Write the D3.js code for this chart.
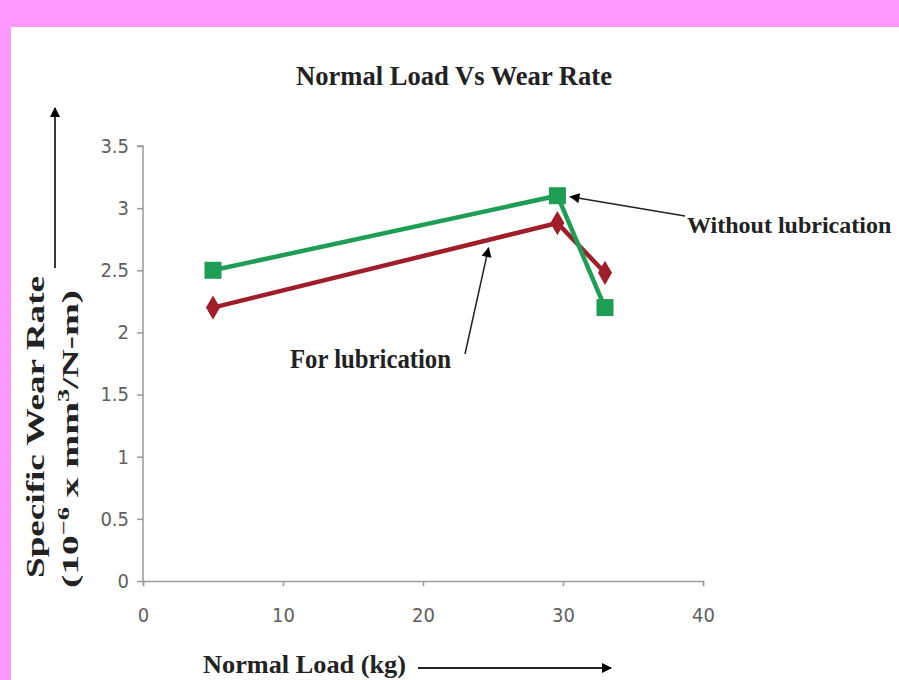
<!DOCTYPE html>
<html>
<head>
<meta charset="utf-8">
<script src="https://cdn.jsdelivr.net/npm/d3@7/dist/d3.min.js"></script>
<style>
  html, body { margin: 0; padding: 0; background: #ff99ff; overflow: hidden; }
  svg { display: block; }
</style>
</head>
<body>
<script>
// ---- data ----
const loads = [5, 29.6, 33];
const withoutLubrication = [2.5, 3.1, 2.2];
const forLubrication = [2.2, 2.88, 2.48];
const xTicks = [0, 10, 20, 30, 40];
const yTicks = [0, 0.5, 1, 1.5, 2, 2.5, 3, 3.5];
const chartTitle = "Normal Load Vs Wear Rate";
const xTitle = "Normal Load (kg)";
const yTitle1 = "Specific Wear Rate";
const labelWithout = "Without lubrication";
const labelFor = "For lubrication";

const W = 899, H = 680;
const svg = d3.select("body").append("svg").attr("width", W).attr("height", H);

// backgrounds
svg.append("rect").attr("x", 0).attr("y", 0).attr("width", W).attr("height", H).attr("fill", "#ff99ff");
svg.append("rect").attr("x", 11).attr("y", 27).attr("width", W - 11).attr("height", H - 27).attr("fill", "#ffffff");

const defs = svg.append("defs");
defs.append("marker").attr("id", "ah").attr("viewBox", "0 0 10 10")
  .attr("refX", 9).attr("refY", 5).attr("markerWidth", 14).attr("markerHeight", 10)
  .attr("markerUnits", "userSpaceOnUse").attr("orient", "auto")
  .append("path").attr("d", "M0,0 L10,5 L0,10 Z").attr("fill", "#000");

const x = d3.scaleLinear().domain([0, 40]).range([143, 703]);
const y = d3.scaleLinear().domain([0, 3.5]).range([581, 146]);

const tickFont = "'Liberation Sans Narrow','DejaVu Sans Condensed',sans-serif";
const serif = "'Liberation Serif','Times New Roman',serif";

// axes
const xAxis = d3.axisBottom(x).tickValues(xTicks).tickSize(5).tickPadding(22).tickFormat(d3.format("d"));
const gx = svg.append("g").attr("transform", `translate(0,${y(0)})`).call(xAxis);
const yAxis = d3.axisLeft(y).tickValues(yTicks).tickSize(6).tickPadding(8).tickFormat(d => d);
const gy = svg.append("g").attr("transform", `translate(${x(0)},0)`).call(yAxis);
[gx, gy].forEach(g => {
  g.select(".domain").attr("stroke", "#9a9a9a").attr("stroke-width", 1.5);
  g.selectAll(".tick line").attr("stroke", "#9a9a9a").attr("stroke-width", 1.5);
  g.selectAll(".tick text").attr("fill", "#606060").attr("font-family", tickFont).attr("font-size", 20);
});
gy.select(".domain").attr("d", `M-6,${y(3.5)}H0V${y(0)}`);

// series
const line = d3.line().x(d => x(d[0])).y(d => y(d[1]));
const greenData = loads.map((l, i) => [l, withoutLubrication[i]]);
const redData = loads.map((l, i) => [l, forLubrication[i]]);
const green = "#1e9e55", red = "#a01e2a";

svg.append("path").datum(redData).attr("d", line).attr("fill", "none").attr("stroke", red).attr("stroke-width", 4.5);
svg.append("path").datum(greenData).attr("d", line).attr("fill", "none").attr("stroke", green).attr("stroke-width", 4.5);

svg.selectAll(".rd").data(redData).enter().append("path")
  .attr("transform", d => `translate(${x(d[0])},${y(d[1])})`)
  .attr("d", d3.symbol(d3.symbolDiamond, 170)).attr("fill", red);
svg.selectAll(".gs").data(greenData).enter().append("path")
  .attr("transform", d => `translate(${x(d[0])},${y(d[1])})`)
  .attr("d", d3.symbol(d3.symbolSquare, 290)).attr("fill", green);

// title
svg.append("text").attr("x", 296).attr("y", 85).attr("font-family", serif).attr("font-weight", "bold")
  .attr("font-size", 27).attr("fill", "#222").attr("textLength", 316).attr("lengthAdjust", "spacingAndGlyphs")
  .text(chartTitle);

// annotations
svg.append("text").attr("x", 290).attr("y", 368).attr("font-family", serif).attr("font-weight", "bold")
  .attr("font-size", 28).attr("fill", "#222").attr("textLength", 161).attr("lengthAdjust", "spacingAndGlyphs")
  .text(labelFor);
const fx = loads[0] + (loads[1] - loads[0]) * 0.8;
svg.append("line").attr("x1", 465).attr("y1", 354).attr("x2", x(fx)).attr("y2", y(forLubrication[0] + (forLubrication[1] - forLubrication[0]) * 0.8) + 8)
  .attr("stroke", "#222").attr("stroke-width", 1.5).attr("marker-end", "url(#ah)");

svg.append("text").attr("x", 687).attr("y", 233).attr("font-family", serif).attr("font-weight", "bold")
  .attr("font-size", 24).attr("fill", "#222")
  .text(labelWithout);
svg.append("line").attr("x1", 685).attr("y1", 216).attr("x2", x(loads[1]) + 13).attr("y2", y(withoutLubrication[1]) + 1)
  .attr("stroke", "#222").attr("stroke-width", 1.5).attr("marker-end", "url(#ah)");

// y axis title
svg.append("text").attr("transform", "translate(44,578) rotate(-90)")
  .attr("font-family", serif).attr("font-weight", "bold").attr("font-size", 25).attr("fill", "#222")
  .attr("textLength", 302).attr("lengthAdjust", "spacingAndGlyphs").text(yTitle1);
const yt2 = svg.append("text").attr("transform", "translate(78,588) rotate(-90)")
  .attr("font-family", serif).attr("font-weight", "bold").attr("font-size", 24).attr("fill", "#222")
  .attr("textLength", 298).attr("lengthAdjust", "spacingAndGlyphs");
yt2.append("tspan").text("(10");
yt2.append("tspan").attr("dy", -9).attr("font-size", 16).text("\u22126");
yt2.append("tspan").attr("dy", 9).text(" x mm");
yt2.append("tspan").attr("dy", -9).attr("font-size", 16).text("3");
yt2.append("tspan").attr("dy", 9).text("/N-m)");
svg.append("line").attr("x1", 55).attr("y1", 268).attr("x2", 55).attr("y2", 108)
  .attr("stroke", "#222").attr("stroke-width", 1.8).attr("marker-end", "url(#ah)");

// x axis title
svg.append("text").attr("x", 203).attr("y", 673).attr("font-family", serif).attr("font-weight", "bold")
  .attr("font-size", 26).attr("fill", "#222").attr("textLength", 203).attr("lengthAdjust", "spacingAndGlyphs")
  .text(xTitle);
svg.append("line").attr("x1", 418).attr("y1", 668).attr("x2", 611).attr("y2", 668)
  .attr("stroke", "#222").attr("stroke-width", 1.8).attr("marker-end", "url(#ah)");
</script>
</body>
</html>
